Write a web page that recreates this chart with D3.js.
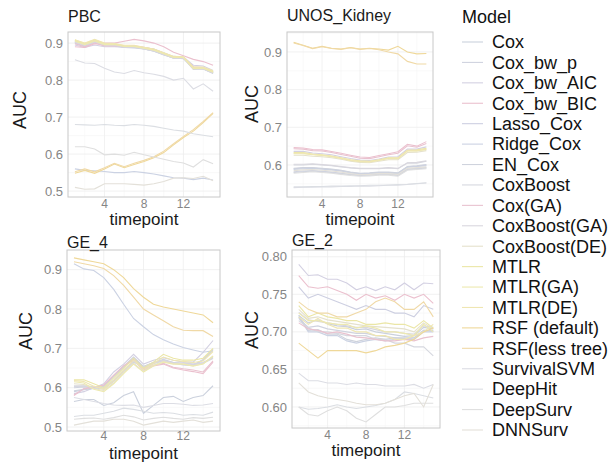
<!DOCTYPE html>
<html><head><meta charset="utf-8">
<script src="https://cdn.jsdelivr.net/npm/d3@7"></script>
<style>body{margin:0;background:#fff} text{font-family:"Liberation Sans",Arial,sans-serif}</style>
</head><body><svg id="c" width="613" height="462"></svg>
<script>
const models = ["Cox","Cox_bw_p","Cox_bw_AIC","Cox_bw_BIC","Lasso_Cox","Ridge_Cox","EN_Cox","CoxBoost","Cox(GA)","CoxBoost(GA)","CoxBoost(DE)","MTLR","MTLR(GA)","MTLR(DE)","RSF (default)","RSF(less tree)","SurvivalSVM","DeepHit","DeepSurv","DNNSurv"];
const timepoints = [1,2,3,4,5,6,7,8,9,10,11,12,13,14,15];
const xTicks = [4,8,12];
const xMinor = [2,6,10,14];

const pbcAUC = [
[0.900,0.892,0.902,0.893,0.892,0.888,0.887,0.884,0.878,0.868,0.860,0.858,0.832,0.830,0.818],
[0.903,0.896,0.904,0.896,0.893,0.890,0.889,0.886,0.880,0.870,0.861,0.859,0.834,0.832,0.820],
[0.895,0.888,0.895,0.890,0.890,0.889,0.891,0.888,0.884,0.874,0.864,0.862,0.840,0.838,0.826],
[0.890,0.888,0.898,0.900,0.900,0.905,0.910,0.906,0.900,0.890,0.875,0.866,0.856,0.850,0.840],
[0.904,0.894,0.906,0.895,0.895,0.889,0.890,0.884,0.879,0.869,0.859,0.861,0.829,0.831,0.819],
[0.560,0.556,0.555,0.553,0.550,0.550,0.553,0.550,0.546,0.541,0.536,0.535,0.531,0.535,0.530],
[0.906,0.897,0.907,0.897,0.896,0.891,0.892,0.886,0.881,0.871,0.862,0.862,0.831,0.833,0.821],
[0.902,0.895,0.903,0.894,0.894,0.890,0.890,0.885,0.880,0.870,0.860,0.860,0.830,0.830,0.820],
[0.898,0.890,0.900,0.892,0.893,0.891,0.893,0.889,0.883,0.872,0.862,0.860,0.836,0.834,0.823],
[0.903,0.894,0.904,0.895,0.894,0.889,0.889,0.884,0.879,0.869,0.859,0.859,0.830,0.831,0.819],
[0.907,0.898,0.908,0.898,0.897,0.892,0.891,0.887,0.882,0.872,0.862,0.861,0.832,0.832,0.822],
[0.908,0.899,0.909,0.899,0.898,0.893,0.892,0.888,0.883,0.873,0.863,0.862,0.834,0.833,0.823],
[0.905,0.896,0.906,0.896,0.896,0.891,0.891,0.886,0.881,0.871,0.861,0.861,0.831,0.832,0.821],
[0.909,0.900,0.910,0.900,0.899,0.894,0.894,0.889,0.884,0.874,0.864,0.863,0.835,0.835,0.825],
[0.548,0.556,0.548,0.560,0.573,0.563,0.572,0.580,0.590,0.604,0.625,0.645,0.662,0.685,0.710],
[0.552,0.560,0.552,0.563,0.575,0.566,0.575,0.583,0.593,0.608,0.628,0.648,0.666,0.688,0.712],
[0.855,0.846,0.845,0.832,0.822,0.818,0.826,0.820,0.816,0.810,0.800,0.805,0.776,0.790,0.770],
[0.680,0.679,0.678,0.680,0.678,0.677,0.680,0.678,0.675,0.670,0.665,0.662,0.655,0.651,0.647],
[0.620,0.620,0.614,0.598,0.600,0.597,0.605,0.598,0.592,0.586,0.580,0.576,0.565,0.585,0.574],
[0.510,0.505,0.506,0.520,0.520,0.520,0.518,0.516,0.520,0.526,0.535,0.536,0.534,0.540,0.528]];

const unosAUC = [
[0.580,0.582,0.584,0.582,0.580,0.577,0.574,0.572,0.573,0.575,0.575,0.572,0.588,0.590,0.592],
[0.582,0.584,0.585,0.583,0.581,0.578,0.575,0.573,0.574,0.576,0.576,0.573,0.589,0.591,0.593],
[0.636,0.636,0.632,0.630,0.627,0.622,0.617,0.613,0.612,0.616,0.621,0.622,0.642,0.642,0.648],
[0.646,0.645,0.641,0.640,0.636,0.631,0.626,0.621,0.620,0.625,0.630,0.635,0.655,0.650,0.662],
[0.590,0.592,0.592,0.590,0.588,0.585,0.580,0.577,0.578,0.580,0.580,0.578,0.595,0.597,0.600],
[0.588,0.590,0.591,0.589,0.587,0.584,0.579,0.576,0.577,0.579,0.579,0.577,0.594,0.596,0.598],
[0.591,0.593,0.593,0.591,0.589,0.586,0.581,0.578,0.579,0.581,0.581,0.579,0.596,0.598,0.601],
[0.600,0.600,0.602,0.600,0.598,0.595,0.592,0.590,0.590,0.590,0.592,0.590,0.605,0.605,0.610],
[0.643,0.642,0.638,0.637,0.633,0.628,0.623,0.618,0.617,0.622,0.627,0.631,0.651,0.647,0.657],
[0.602,0.602,0.603,0.601,0.599,0.596,0.593,0.591,0.591,0.591,0.593,0.591,0.606,0.607,0.611],
[0.626,0.626,0.623,0.622,0.619,0.615,0.610,0.607,0.606,0.610,0.614,0.614,0.633,0.634,0.638],
[0.633,0.633,0.629,0.627,0.624,0.619,0.614,0.611,0.610,0.614,0.619,0.619,0.639,0.640,0.644],
[0.630,0.630,0.627,0.625,0.622,0.617,0.612,0.609,0.608,0.612,0.617,0.617,0.637,0.637,0.641],
[0.631,0.631,0.628,0.626,0.623,0.618,0.613,0.610,0.609,0.613,0.618,0.618,0.638,0.638,0.642],
[0.926,0.918,0.910,0.915,0.910,0.908,0.912,0.908,0.910,0.908,0.905,0.915,0.900,0.895,0.896],
[0.924,0.917,0.909,0.914,0.909,0.907,0.911,0.907,0.909,0.906,0.900,0.895,0.875,0.868,0.868],
[0.540,0.541,0.541,0.542,0.542,0.543,0.543,0.544,0.544,0.545,0.546,0.546,0.548,0.550,0.552],
[0.542,0.542,0.543,0.543,0.544,0.544,0.545,0.545,0.546,0.546,0.547,0.548,0.549,0.551,0.553],
[0.578,0.580,0.582,0.580,0.578,0.575,0.572,0.570,0.571,0.573,0.573,0.570,0.586,0.588,0.590],
[0.585,0.587,0.588,0.586,0.584,0.581,0.577,0.574,0.575,0.577,0.577,0.575,0.591,0.593,0.595]];

const ge4AUC = [
[0.565,0.570,0.570,0.555,0.562,0.580,0.590,0.535,0.555,0.575,0.578,0.565,0.575,0.580,0.605],
[0.600,0.602,0.600,0.596,0.616,0.641,0.665,0.654,0.664,0.669,0.664,0.663,0.660,0.664,0.676],
[0.585,0.590,0.600,0.610,0.640,0.660,0.685,0.660,0.670,0.676,0.670,0.665,0.665,0.690,0.720],
[0.580,0.598,0.601,0.606,0.630,0.655,0.670,0.645,0.655,0.660,0.650,0.645,0.641,0.636,0.665],
[0.590,0.595,0.598,0.603,0.628,0.652,0.676,0.652,0.662,0.670,0.662,0.658,0.656,0.670,0.695],
[0.915,0.902,0.898,0.880,0.850,0.812,0.776,0.755,0.735,0.722,0.711,0.702,0.696,0.690,0.694],
[0.592,0.596,0.599,0.604,0.630,0.654,0.678,0.654,0.664,0.672,0.664,0.660,0.658,0.672,0.698],
[0.603,0.604,0.602,0.598,0.618,0.643,0.667,0.650,0.661,0.668,0.662,0.661,0.658,0.662,0.674],
[0.582,0.597,0.602,0.607,0.632,0.656,0.672,0.648,0.657,0.662,0.652,0.648,0.645,0.640,0.668],
[0.605,0.605,0.603,0.599,0.620,0.645,0.668,0.652,0.663,0.670,0.663,0.662,0.660,0.663,0.678],
[0.610,0.608,0.598,0.593,0.612,0.638,0.662,0.642,0.657,0.667,0.661,0.661,0.656,0.661,0.681],
[0.620,0.620,0.610,0.600,0.625,0.650,0.675,0.650,0.665,0.685,0.675,0.670,0.670,0.675,0.700],
[0.615,0.612,0.596,0.590,0.610,0.636,0.660,0.640,0.655,0.665,0.660,0.660,0.655,0.660,0.680],
[0.618,0.616,0.604,0.596,0.618,0.644,0.670,0.646,0.661,0.678,0.670,0.667,0.664,0.668,0.692],
[0.930,0.925,0.920,0.915,0.900,0.880,0.852,0.830,0.812,0.805,0.800,0.795,0.790,0.785,0.765],
[0.920,0.915,0.910,0.903,0.885,0.860,0.830,0.800,0.785,0.770,0.755,0.746,0.745,0.745,0.730],
[0.575,0.570,0.565,0.560,0.556,0.555,0.556,0.550,0.555,0.560,0.560,0.558,0.555,0.556,0.560],
[0.527,0.530,0.530,0.535,0.540,0.548,0.545,0.540,0.535,0.537,0.535,0.530,0.532,0.530,0.538],
[0.520,0.522,0.523,0.520,0.524,0.530,0.526,0.518,0.522,0.525,0.522,0.520,0.524,0.522,0.525],
[0.505,0.510,0.515,0.515,0.520,0.520,0.515,0.505,0.510,0.515,0.512,0.515,0.518,0.512,0.515]];

const ge2AUC = [
[0.722,0.712,0.716,0.711,0.708,0.707,0.703,0.704,0.700,0.698,0.696,0.694,0.695,0.706,0.704],
[0.718,0.706,0.708,0.704,0.702,0.700,0.698,0.698,0.695,0.694,0.692,0.692,0.692,0.702,0.702],
[0.790,0.775,0.776,0.770,0.770,0.765,0.756,0.760,0.755,0.760,0.756,0.765,0.756,0.765,0.764],
[0.775,0.760,0.758,0.760,0.755,0.750,0.742,0.750,0.745,0.748,0.742,0.750,0.745,0.750,0.738],
[0.760,0.745,0.750,0.745,0.740,0.735,0.730,0.735,0.730,0.730,0.725,0.725,0.720,0.735,0.730],
[0.720,0.700,0.700,0.695,0.695,0.688,0.685,0.688,0.690,0.688,0.690,0.690,0.690,0.700,0.700],
[0.722,0.702,0.703,0.697,0.697,0.690,0.687,0.690,0.692,0.690,0.692,0.691,0.692,0.702,0.701],
[0.715,0.705,0.700,0.700,0.698,0.695,0.695,0.695,0.690,0.690,0.685,0.685,0.680,0.680,0.668],
[0.712,0.704,0.702,0.698,0.700,0.697,0.693,0.692,0.690,0.688,0.688,0.690,0.688,0.692,0.694],
[0.726,0.716,0.714,0.712,0.710,0.708,0.706,0.706,0.703,0.700,0.700,0.698,0.697,0.708,0.706],
[0.730,0.718,0.720,0.716,0.714,0.712,0.710,0.708,0.707,0.706,0.705,0.704,0.700,0.712,0.704],
[0.735,0.720,0.725,0.720,0.718,0.715,0.715,0.710,0.710,0.712,0.710,0.710,0.705,0.715,0.705],
[0.725,0.715,0.715,0.712,0.710,0.710,0.705,0.708,0.705,0.700,0.700,0.698,0.695,0.710,0.700],
[0.720,0.710,0.718,0.710,0.705,0.705,0.700,0.700,0.695,0.695,0.690,0.690,0.695,0.700,0.710],
[0.685,0.675,0.665,0.675,0.675,0.675,0.675,0.672,0.675,0.680,0.682,0.685,0.690,0.700,0.705],
[0.740,0.730,0.725,0.725,0.720,0.720,0.725,0.730,0.740,0.745,0.740,0.730,0.730,0.740,0.720],
[0.645,0.635,0.635,0.632,0.632,0.630,0.632,0.630,0.630,0.628,0.628,0.628,0.630,0.625,0.630],
[0.600,0.597,0.598,0.600,0.603,0.600,0.598,0.600,0.602,0.605,0.610,0.620,0.618,0.615,0.612],
[0.600,0.590,0.588,0.595,0.600,0.595,0.585,0.580,0.590,0.600,0.600,0.602,0.605,0.605,0.605],
[0.632,0.620,0.615,0.612,0.610,0.608,0.605,0.603,0.603,0.605,0.610,0.615,0.618,0.600,0.630]];

const pbcTicks = [0.5,0.6,0.7,0.8,0.9];
const unosTicks = [0.6,0.7,0.8,0.9];
const ge4Ticks = [0.5,0.6,0.7,0.8,0.9];
const ge2Ticks = [0.60,0.65,0.70,0.75,0.80];

const palette = ["#cbd1dd","#d0d3df","#d3d0e2","#ebc0ce","#cdcfe1","#cbd2e3","#cfd3dd","#d6d8df","#e9c2cf","#d9d7de","#e5e1cc","#ebe6a6","#ede9b0","#efe6b2","#efd899","#f0d9a6","#dcdde4","#dbdee3","#dfdfdf","#e3e0d9"];

const svg = d3.select("#c");

const panels = [
 {title:"PBC", vals:pbcAUC, ticks:pbcTicks, fmt:d3.format(".1f"), dom:[0.484,0.930], box:[68,220,32,197], tx:68, ty:22, ax:20, ay:110, xt:11, xl:28},
 {title:"UNOS_Kidney", vals:unosAUC, ticks:unosTicks, fmt:d3.format(".1f"), dom:[0.515,0.953], box:[287,433,32,197], tx:287, ty:21, ax:252, ay:104, xt:11, xl:28},
 {title:"GE_4", vals:ge4AUC, ticks:ge4Ticks, fmt:d3.format(".1f"), dom:[0.49,0.95], box:[67,220,250,431], tx:67, ty:248, ax:26, ay:331, xt:9, xl:28},
 {title:"GE_2", vals:ge2AUC, ticks:ge2Ticks, fmt:d3.format(".2f"), dom:[0.572,0.809], box:[292,440,250,428], tx:292, ty:246, ax:252, ay:330, xt:11, xl:28}
];

panels.forEach(p => {
  const [l,r,t,b] = p.box;
  const x = d3.scaleLinear().domain([0.3,15.7]).range([l,r]);
  const y = d3.scaleLinear().domain(p.dom).range([b,t]);
  const g = svg.append("g");
  const minorY = [];
  for (let i=0;i<p.ticks.length-1;i++) minorY.push((p.ticks[i]+p.ticks[i+1])/2);
  const step = p.ticks[1]-p.ticks[0];
  if (p.ticks[0]-step/2 > p.dom[0]) minorY.unshift(p.ticks[0]-step/2);
  const lastT = p.ticks[p.ticks.length-1];
  if (lastT+step/2 < p.dom[1]) minorY.push(lastT+step/2);
  g.selectAll(".my").data(minorY).join("line").attr("x1",l).attr("x2",r).attr("y1",d=>y(d)).attr("y2",d=>y(d)).attr("stroke","#f5f5f5").attr("stroke-width",0.6);
  g.selectAll(".mx").data(xMinor).join("line").attr("y1",t).attr("y2",b).attr("x1",d=>x(d)).attr("x2",d=>x(d)).attr("stroke","#f5f5f5").attr("stroke-width",0.6);
  g.selectAll(".gy").data(p.ticks).join("line").attr("x1",l).attr("x2",r).attr("y1",d=>y(d)).attr("y2",d=>y(d)).attr("stroke","#eeeeee").attr("stroke-width",0.8);
  g.selectAll(".gx").data(xTicks).join("line").attr("y1",t).attr("y2",b).attr("x1",d=>x(d)).attr("x2",d=>x(d)).attr("stroke","#eeeeee").attr("stroke-width",0.8);
  const line = d3.line().x((d,i)=>x(timepoints[i])).y(d=>y(d));
  g.selectAll(".ln").data(p.vals).join("path").attr("fill","none")
    .attr("stroke",(d,i)=>palette[i]).attr("stroke-width",1.1).attr("d",line);
  g.append("rect").attr("x",l).attr("y",t).attr("width",r-l).attr("height",b-t).attr("fill","none").attr("stroke","#c8c8c8").attr("stroke-width",1);
  g.selectAll(".yl").data(p.ticks).join("text").attr("x",l-5).attr("y",d=>y(d)).attr("dy","0.35em")
    .attr("text-anchor","end").attr("font-size",13).attr("fill","#858585").text(p.fmt);
  g.selectAll(".xl").data(xTicks).join("text").attr("x",d=>x(d)).attr("y",b+p.xt)
    .attr("text-anchor","middle").attr("font-size",12).attr("fill","#858585").text(d=>d);
  g.append("text").attr("x",(l+r)/2).attr("y",b+p.xl).attr("text-anchor","middle").attr("font-size",17).attr("fill","#1a1a1a").text("timepoint");
  g.append("text").attr("transform",`translate(${p.ax},${p.ay}) rotate(-90)`).attr("text-anchor","middle").attr("dy","0.35em").attr("font-size",18).attr("fill","#1a1a1a").text("AUC");
  g.append("text").attr("x",p.tx).attr("y",p.ty).attr("font-size",16).attr("fill","#1a1a1a").text(p.title);
});

const lg = svg.append("g");
lg.append("text").attr("x",462).attr("y",23).attr("font-size",18).attr("fill","#111").text("Model");
const ly = d3.scaleLinear().domain([0,19]).range([42,430]);
lg.selectAll(".k").data(models).join("line").attr("x1",462).attr("x2",483)
  .attr("y1",(d,i)=>ly(i)).attr("y2",(d,i)=>ly(i)).attr("stroke",(d,i)=>palette[i]).attr("stroke-width",1.1);
lg.selectAll(".t").data(models).join("text").attr("x",492).attr("y",(d,i)=>ly(i)).attr("dy","0.35em")
  .attr("font-size",18).attr("fill","#111").text(d=>d);
</script></body></html>
